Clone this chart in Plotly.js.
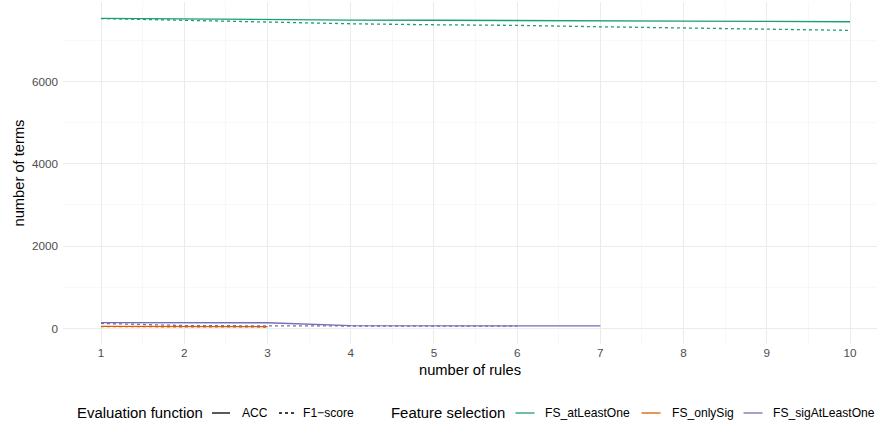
<!DOCTYPE html>
<html><head><meta charset="utf-8">
<script src="https://cdn.plot.ly/plotly-3.0.1.min.js"></script>
<style>body{margin:0;background:#fff}#g{width:877px;height:423px}</style>
</head><body><div id="g"></div>
<script>
const rules = [1,2,3,4,5,6,7,8,9,10];
const atLeastOne_ACC = [7534,7517,7500,7493,7488,7486,7482,7469,7461,7452];
const atLeastOne_F1  = [7530,7486,7444,7403,7379,7364,7330,7299,7257,7243];
const onlySig_rules = [1,2,3];
const onlySig_ACC = [50,48,45];
const onlySig_F1  = [45,40,35];
const sigAtLeastOne_ACC_rules = [1,2,3,4,5,6,7];
const sigAtLeastOne_ACC = [141,140,138,68,65,62,60];
const sigAtLeastOne_F1_rules = [1,2,3,4,5,6];
const sigAtLeastOne_F1 = [122,70,62,58,56,55];
const evalTitle = "Evaluation function";
const evalLabels = ["ACC","F1\u2212score"];
const fsTitle = "Feature selection";
const fsLabels = ["FS_atLeastOne","FS_onlySig","FS_sigAtLeastOne"];
const colors = ["#1B9E77","#D95F02","#7570B3"];
const yTicks = [0,2000,4000,6000];
const xTicks = rules;

const DOT = "3px,3px";
const W = 1.3;
function line(x,y,c,dash,name){return {x:x,y:y,type:"scatter",mode:"lines",name:name,line:{color:c,width:W,dash:dash},showlegend:false,hoverinfo:"skip"};}
const traces = [
  line(rules,atLeastOne_ACC,colors[0],"solid",fsLabels[0]+" ACC"),
  line(rules,atLeastOne_F1,colors[0],DOT,fsLabels[0]+" F1"),
  line(onlySig_rules,onlySig_ACC,colors[1],"solid",fsLabels[1]+" ACC"),
  line(onlySig_rules,onlySig_F1,colors[1],DOT,fsLabels[1]+" F1"),
  line(sigAtLeastOne_ACC_rules,sigAtLeastOne_ACC,colors[2],"solid",fsLabels[2]+" ACC"),
  line(sigAtLeastOne_F1_rules,sigAtLeastOne_F1,colors[2],DOT,fsLabels[2]+" F1")
];

// plot geometry (pixels)
const L = 63, T = 2, B = 79, WID = 877, HEI = 423;
const domW = WID - L, domH = HEI - T - B;
const px = x => (x - L) / domW;
const py = y => (HEI - B - y) / domH;
const legY = py(413);

// manual legend (ggplot-style, bottom)
const annotations = [];
const shapes = [];
function txt(t, x, size){annotations.push({text:t,xref:"paper",yref:"paper",x:px(x),y:legY,xanchor:"left",yanchor:"middle",showarrow:false,borderpad:0,font:{size:size,color:"#000"}});}
function key(x0, x1, c, dash){shapes.push({type:"line",xref:"paper",yref:"paper",x0:px(x0),x1:px(x1),y0:legY,y1:legY,line:{color:c,width:W,dash:dash}});}
const TS = 14.9, LS = 12.1;
txt(evalTitle, 76, TS);
key(212, 230, "#000", "solid"); txt(evalLabels[0], 241, LS);
key(279, 297, "#000", DOT);     txt(evalLabels[1], 302, LS);
txt(fsTitle, 389.5, TS);
const fsKeys = [515.5, 641.5, 743.5];
const fsText = [544, 670.5, 772];
fsLabels.forEach((l,i)=>{ key(fsKeys[i], fsKeys[i]+19, colors[i], "solid"); txt(l, fsText[i], LS); });

const grid = "#ebebeb";
const layout = {
  width:WID,height:HEI,
  margin:{l:L,r:0,t:T,b:B},
  paper_bgcolor:"#fff",plot_bgcolor:"#fff",
  font:{family:"Liberation Sans, Arial, sans-serif",color:"#000"},
  showlegend:false,
  xaxis:{range:[0.543,10.324],tickvals:xTicks,ticktext:xTicks.map(String),showgrid:true,gridcolor:grid,gridwidth:1,
    minor:{dtick:0.5,showgrid:true,gridcolor:"#f4f4f4",gridwidth:0.6,tick0:0.5},automargin:false,
    zeroline:false,showline:false,ticks:"",tickfont:{size:11.7,color:"#4d4d4d"},
    title:{text:"number of rules",font:{size:14.7},standoff:7}},
  yaxis:{range:[-378,7932],tickvals:yTicks,ticktext:yTicks.map(String),showgrid:true,gridcolor:grid,gridwidth:1,
    minor:{dtick:1000,tick0:0,showgrid:true,gridcolor:"#f4f4f4",gridwidth:0.6},automargin:false,
    zeroline:false,showline:false,ticks:"",tickfont:{size:11.7,color:"#4d4d4d"},ticklabelstandoff:4,
    title:{text:"number of terms",font:{size:14.7},standoff:3}},
  annotations:annotations,
  shapes:shapes
};
Plotly.newPlot("g",traces,layout,{staticPlot:true,displayModeBar:false});
</script></body></html>
